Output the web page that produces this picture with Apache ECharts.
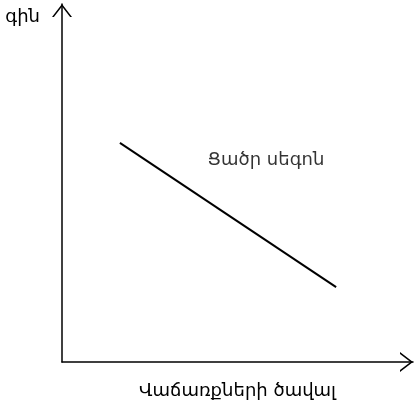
<!DOCTYPE html>
<html>
<head>
<meta charset="utf-8">
<script src="https://cdn.jsdelivr.net/npm/echarts@6/dist/echarts.min.js"></script>
<style>
  html, body { margin: 0; padding: 0; background: #fff; }
  #chart { width: 415px; height: 404px; }
</style>
</head>
<body>
<div id="chart"></div>
<script>
// pieces of the chart
var xName = 'Վաճառքների ծավալ';
var yName = 'գին';
// demand line, two ends
var lineX = [16.5, 78.1];
var lineY = [61.2, 20.9];
// text placed in the plot
var noteText = ['Ցածր սեգոն'];
var noteX = [58.1];
var noteY = [56.4];

var font = 'DejaVu Sans';
// open arrow head (chevron)
var arrowPath = 'path://M0,13 L10,0 L20,13 L18.1,13 L10,2.5 L1.9,13 Z';

var lineData = [];
for (var i = 0; i < lineX.length; i++) {
    lineData.push([lineX[i], lineY[i]]);
}
var noteData = [];
for (var j = 0; j < noteText.length; j++) {
    noteData.push({ value: [noteX[j], noteY[j]], name: noteText[j] });
}

var axisLine = {
    show: true,
    symbol: ['none', arrowPath],
    symbolSize: [20, 13],
    symbolOffset: [0, -6.5],
    lineStyle: { color: '#000', width: 1.5 }
};

var option = {
    animation: false,
    backgroundColor: '#fff',
    grid: { left: 62, right: 2, top: 4, bottom: 42, outerBoundsMode: 'none', containLabel: false },
    xAxis: {
        type: 'value',
        min: 0,
        max: 100,
        name: xName,
        nameLocation: 'middle',
        nameGap: 20,
        nameTextStyle: { fontFamily: font, fontSize: 18, color: '#000' },
        axisLine: axisLine,
        axisTick: { show: false },
        axisLabel: { show: false },
        splitLine: { show: false }
    },
    yAxis: {
        type: 'value',
        min: 0,
        max: 100,
        name: yName,
        nameLocation: 'end',
        nameGap: -13,
        nameTextStyle: {
            fontFamily: font, fontSize: 18, color: '#000',
            align: 'right', verticalAlign: 'middle', padding: [0, 22, 0, 0]
        },
        axisLine: axisLine,
        axisTick: { show: false },
        axisLabel: { show: false },
        splitLine: { show: false }
    },
    series: [
        {
            type: 'line',
            data: lineData,
            symbol: 'none',
            lineStyle: { color: '#000', width: 2 }
        },
        {
            type: 'scatter',
            data: noteData,
            symbolSize: 0,
            label: {
                show: true,
                position: 'inside',
                formatter: '{b}',
                fontFamily: font,
                fontSize: 18,
                color: '#000'
            }
        }
    ]
};

var myChart = echarts.init(document.getElementById('chart'));
myChart.setOption(option);
</script>
</body>
</html>
